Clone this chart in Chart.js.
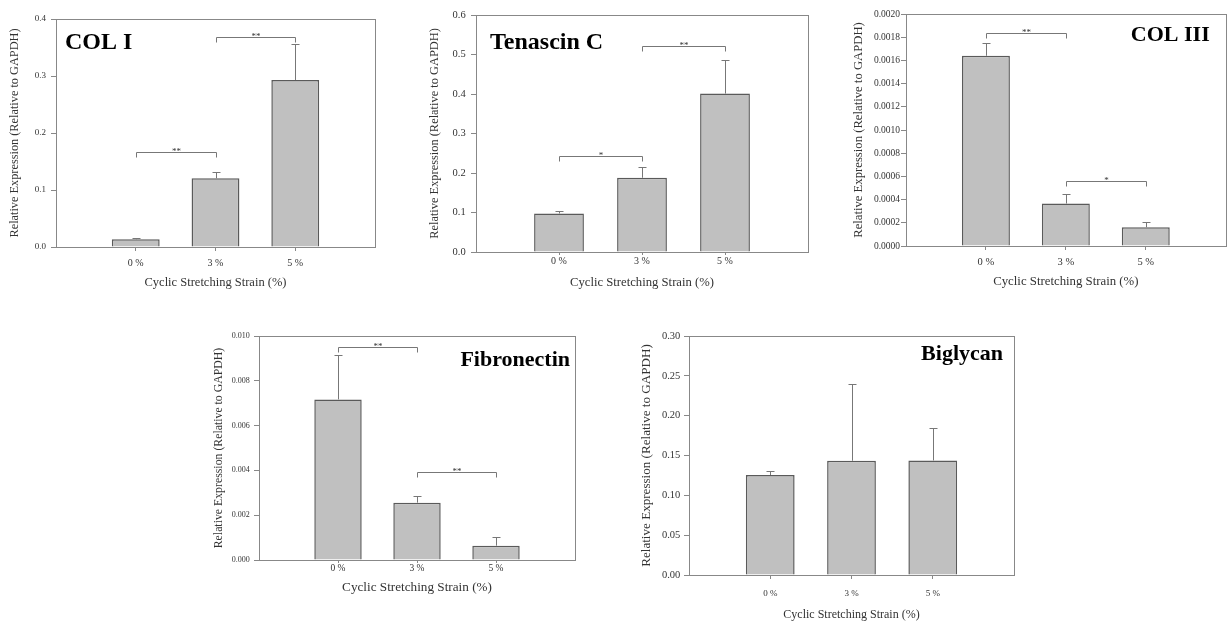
<!DOCTYPE html>
<html>
<head>
<meta charset="utf-8">
<title>Relative expression under cyclic stretching</title>
<script src="https://cdn.jsdelivr.net/npm/chart.js@4.4.0/dist/chart.umd.min.js"></script>
<style>
body { margin: 0; background: #fff; width: 1229px; height: 622px; overflow: hidden; position: relative; }
.panel { position: absolute; }
canvas { display: block; }
</style>
</head>
<body>
<div class="panel" style="left:0px;top:0px"><canvas id="c1" width="390" height="300"></canvas></div>
<div class="panel" style="left:420px;top:0px"><canvas id="c2" width="400" height="300"></canvas></div>
<div class="panel" style="left:820px;top:0px"><canvas id="c3" width="412" height="300"></canvas></div>
<div class="panel" style="left:200px;top:320px"><canvas id="c4" width="390" height="300"></canvas></div>
<div class="panel" style="left:610px;top:320px"><canvas id="c5" width="420" height="302"></canvas></div>
<script>
// x positions: empty slot on each side, like the original plots
var categories = ['', '0 %', '3 %', '5 %', ''];

var colIMean = [0.0135, 0.1205, 0.293];
var colIErr = [0.0015, 0.0115, 0.0626];
var colISig = [[0, 1, 0.167, '**'], [1, 2, 0.369, '**']];

var tenascinMean = [0.0975, 0.188, 0.401];
var tenascinErr = [0.0065, 0.027, 0.085];
var tenascinSig = [[0, 1, 0.243, '*'], [1, 2, 0.521, '**']];

var colIIIMean = [0.00164, 0.000366, 0.000161];
var colIIIErr = [0.000107, 0.000078, 0.000044];
var colIIISig = [[0, 1, 0.00184, '**'], [1, 2, 0.000558, '*']];

var fibronectinMean = [0.00717, 0.00256, 0.00064];
var fibronectinErr = [0.00197, 0.00028, 0.0004];
var fibronectinSig = [[0, 1, 0.00952, '**'], [1, 2, 0.00392, '**']];

var biglycanMean = [0.1255, 0.1434, 0.1438];
var biglycanErr = [0.0055, 0.0969, 0.0412];
var biglycanSig = [];

var SERIF = "'Liberation Serif', 'Times New Roman', serif";
var AXIS_COLOR = '#888888';
var TEXT_COLOR = '#333333';

function padded(arr) {
    return [null].concat(arr).concat([null]);
}

function makeExtras(p) {
    return {
        id: 'extras',
        afterDatasetsDraw: function (chart) {
            var ctx = chart.ctx, xs = chart.scales.x, ys = chart.scales.y, a = chart.chartArea;
            ctx.save();
            // error bars (upper only)
            ctx.strokeStyle = '#777777';
            ctx.lineWidth = 1;
            p.mean.forEach(function (m, i) {
                var px = Math.round(xs.getPixelForValue(i + 1)) + 0.5;
                var y0 = ys.getPixelForValue(m);
                var y1 = Math.round(ys.getPixelForValue(m + p.err[i])) + 0.5;
                ctx.beginPath();
                ctx.moveTo(px, y0);
                ctx.lineTo(px, y1);
                ctx.moveTo(px - 4, y1);
                ctx.lineTo(px + 4, y1);
                ctx.stroke();
            });
            // significance brackets
            p.sig.forEach(function (s) {
                var xa = Math.round(xs.getPixelForValue(s[0] + 1)) + 0.5;
                var xb = Math.round(xs.getPixelForValue(s[1] + 1)) + 0.5;
                var yy = Math.round(ys.getPixelForValue(s[2])) + 0.5;
                ctx.beginPath();
                ctx.moveTo(xa, yy + 5);
                ctx.lineTo(xa, yy);
                ctx.lineTo(xb, yy);
                ctx.lineTo(xb, yy + 5);
                ctx.stroke();
                ctx.fillStyle = TEXT_COLOR;
                ctx.font = '9px ' + SERIF;
                ctx.textAlign = 'center';
                ctx.textBaseline = 'alphabetic';
                ctx.fillText(s[3], (xa + xb) / 2, yy + 1);
            });
            // frame
            ctx.strokeStyle = AXIS_COLOR;
            ctx.strokeRect(Math.round(a.left) + 0.5, Math.round(a.top) + 0.5,
                Math.round(a.right - a.left), Math.round(a.bottom - a.top));
            // gene name
            ctx.fillStyle = '#000';
            ctx.font = 'bold ' + p.nameSize + 'px ' + SERIF;
            ctx.textBaseline = 'alphabetic';
            if (p.nameAlign === 'left') {
                ctx.textAlign = 'left';
                ctx.fillText(p.name, a.left + p.nameDx, a.top + p.nameDy);
            } else {
                ctx.textAlign = 'right';
                ctx.fillText(p.name, a.right - p.nameDx, a.top + p.nameDy);
            }
            ctx.restore();
        }
    };
}

function plotPanel(id, p) {
    var ctx = document.getElementById(id).getContext('2d');
    return new Chart(ctx, {
        type: 'bar',
        data: {
            labels: categories,
            datasets: [{
                data: padded(p.mean),
                backgroundColor: '#c0c0c0',
                borderColor: '#5a5a5a',
                borderWidth: 1.5,
                categoryPercentage: 0.6,
                barPercentage: 1.0
            }]
        },
        options: {
            responsive: false,
            animation: false,
            layout: { padding: { top: p.padTop, right: p.padRight, left: 0, bottom: 0 } },
            plugins: { legend: { display: false }, tooltip: { enabled: false } },
            scales: {
                x: {
                    offset: false,
                    grid: {
                        offset: false,
                        drawOnChartArea: false,
                        tickLength: p.xTickLen,
                        color: function (c) {
                            return (c.index === 0 || c.index === 4) ? 'rgba(0,0,0,0)' : AXIS_COLOR;
                        }
                    },
                    border: { display: false },
                    ticks: {
                        autoSkip: false, maxRotation: 0, padding: p.xTickPad,
                        color: TEXT_COLOR, font: { family: SERIF, size: p.xTickSize }
                    },
                    title: {
                        display: true, text: 'Cyclic Stretching Strain (%)',
                        color: TEXT_COLOR, font: { family: SERIF, size: p.xTitleSize },
                        padding: { top: 0, bottom: p.xTitlePad }
                    },
                    afterFit: function (s) { s.height = p.xAxisH; }
                },
                y: {
                    min: 0, max: p.max,
                    grid: { drawOnChartArea: false, tickLength: 5, color: AXIS_COLOR },
                    border: { display: false },
                    ticks: {
                        stepSize: p.step, padding: p.yTickPad,
                        color: TEXT_COLOR, font: { family: SERIF, size: p.yTickSize },
                        callback: function (v) { return Number(v).toFixed(p.digits); }
                    },
                    title: {
                        display: true, text: 'Relative Expression (Relative to GAPDH)',
                        color: TEXT_COLOR, font: { family: SERIF, size: p.yTitleSize },
                        padding: { top: p.yTitlePad, bottom: 0 }
                    },
                    afterFit: function (s) { s.width = p.yAxisW; }
                }
            }
        },
        plugins: [makeExtras(p)]
    });
}

plotPanel('c1', {
    mean: colIMean, err: colIErr, sig: colISig, max: 0.4, step: 0.1, digits: 1,
    name: 'COL I', nameAlign: 'left', nameDx: 9, nameDy: 30, nameSize: 24,
    padTop: 19, padRight: 15, yAxisW: 56, xAxisH: 53,
    xTickLen: 4, xTickPad: 6, xTickSize: 10, yTickPad: 5, yTickSize: 9,
    xTitleSize: 12.5, xTitlePad: 9.8, yTitleSize: 12.3, yTitlePad: 7.5
});

plotPanel('c2', {
    mean: tenascinMean, err: tenascinErr, sig: tenascinSig, max: 0.6, step: 0.1, digits: 1,
    name: 'Tenascin C', nameAlign: 'left', nameDx: 14, nameDy: 34, nameSize: 24,
    padTop: 15, padRight: 12, yAxisW: 56, xAxisH: 48,
    xTickLen: 3, xTickPad: 0, xTickSize: 10, yTickPad: 5.3, yTickSize: 10.5,
    xTitleSize: 12.7, xTitlePad: 9.8, yTitleSize: 12.4, yTitlePad: 7.5
});

plotPanel('c3', {
    mean: colIIIMean, err: colIIIErr, sig: colIIISig, max: 0.002, step: 0.0002, digits: 4,
    name: 'COL III', nameAlign: 'right', nameDx: 16, nameDy: 27, nameSize: 22,
    padTop: 14, padRight: 0, yAxisW: 86, xAxisH: 54,
    xTickLen: 4, xTickPad: 6.3, xTickSize: 10.5, yTickPad: 1, yTickSize: 9.5,
    xTitleSize: 12.8, xTitlePad: 10.8, yTitleSize: 12.7, yTitlePad: 30.8
});

plotPanel('c4', {
    mean: fibronectinMean, err: fibronectinErr, sig: fibronectinSig, max: 0.01, step: 0.002, digits: 3,
    name: 'Fibronectin', nameAlign: 'right', nameDx: 5, nameDy: 30, nameSize: 22,
    padTop: 16, padRight: 15, yAxisW: 59, xAxisH: 60,
    xTickLen: 3, xTickPad: 0, xTickSize: 9.5, yTickPad: 4.3, yTickSize: 8,
    xTitleSize: 13.2, xTitlePad: 24.2, yTitleSize: 11.8, yTitlePad: 11.8
});

plotPanel('c5', {
    mean: biglycanMean, err: biglycanErr, sig: biglycanSig, max: 0.3, step: 0.05, digits: 2,
    name: 'Biglycan', nameAlign: 'right', nameDx: 11, nameDy: 24, nameSize: 22,
    padTop: 16, padRight: 16, yAxisW: 79, xAxisH: 47,
    xTickLen: 4, xTickPad: 9, xTickSize: 9, yTickPad: 3.7, yTickSize: 10.5,
    xTitleSize: 12, xTitlePad: 0, yTitleSize: 13.1, yTitlePad: 28.5
});
</script>
</body>
</html>
